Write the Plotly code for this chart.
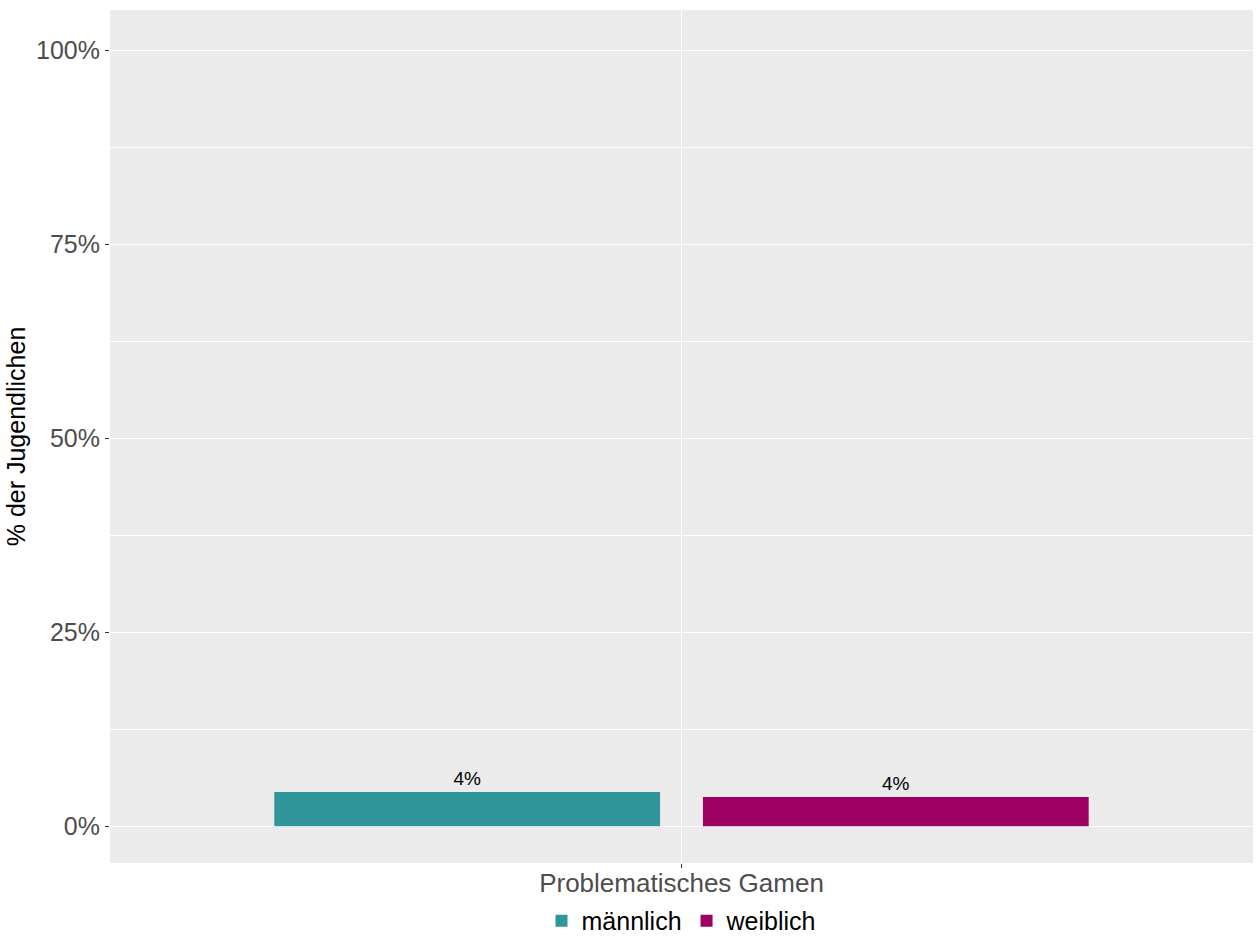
import plotly.graph_objects as go

categories = ["Problematisches Gamen"]
groups = ["männlich", "weiblich"]
values_male = [4.4]
values_female = [3.75]
labels_male = ["4%"]
labels_female = ["4%"]
colors = {"männlich": "#31969A", "weiblich": "#9D0061"}
y_ticks = [0, 25, 50, 75, 100]
y_ticklabels = ["0%", "25%", "50%", "75%", "100%"]

font_family = "Liberation Sans, Arial, sans-serif"

fig = go.Figure()
for name, vals, labs in [("männlich", values_male, labels_male), ("weiblich", values_female, labels_female)]:
    fig.add_trace(go.Bar(
        x=categories, y=vals, name=name, text=labs,
        textposition="outside", cliponaxis=False,
        textfont=dict(size=19, color="black", family=font_family),
        marker=dict(color=colors[name], line=dict(width=0)),
    ))

fig.update_layout(
    width=1257, height=937,
    barmode="group", bargap=0.1, bargroupgap=0.1,
    paper_bgcolor="white", plot_bgcolor="#EBEBEB",
    margin=dict(l=110, r=4, t=10, b=74, autoexpand=False),
    font=dict(family=font_family),
    showlegend=True,
    legend=dict(orientation="h", x=0.5, xanchor="center", y=-0.041, yanchor="top",
                font=dict(size=25, color="black"), tracegroupgap=0),
)
fig.update_xaxes(
    type="category", range=[-0.6, 0.6],
    showgrid=True, gridcolor="white", gridwidth=1,
    ticks="outside", ticklen=4, tickcolor="#333333", ticklabelstandoff=-7,
    tickfont=dict(size=26, color="#4D4D4D"), zeroline=False, showline=False,
)
fig.update_yaxes(
    range=[-4.75, 105.2], tickvals=y_ticks, ticktext=y_ticklabels,
    showgrid=True, gridcolor="white", gridwidth=1,
    minor=dict(tickvals=[12.5, 37.5, 62.5, 87.5], showgrid=True, gridcolor="white", gridwidth=0.5, ticks=""),
    ticks="outside", ticklen=4, tickcolor="#333333",
    tickfont=dict(size=25, color="#4D4D4D"), zeroline=False, showline=False,
    title=dict(text="% der Jugendlichen", font=dict(size=25, color="black"), standoff=3),
)

fig.write_html(
    "out.html",
    config={"displayModeBar": False},
    post_script="document.body.style.margin='0';document.body.style.overflow='hidden';",
)
